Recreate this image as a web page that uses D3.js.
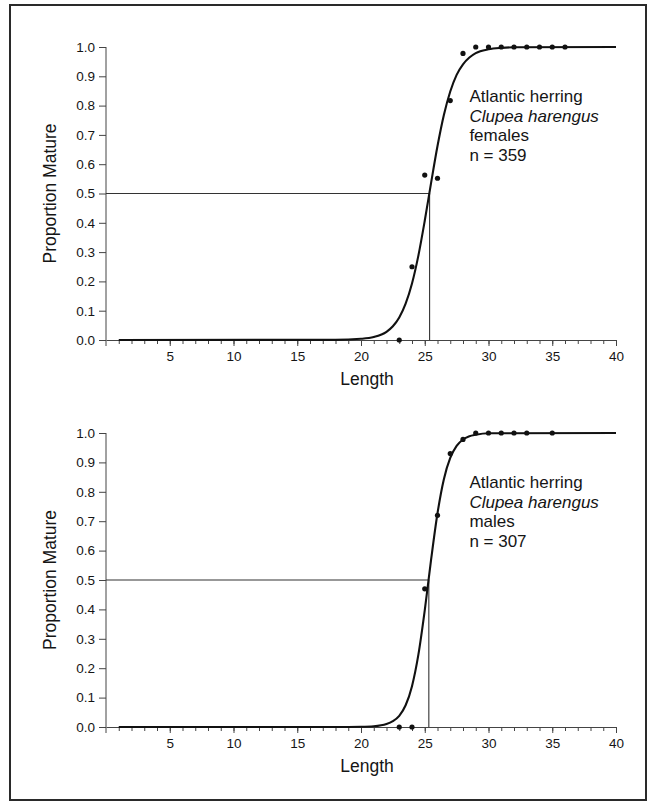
<!DOCTYPE html>
<html><head><meta charset="utf-8">
<script src="https://cdn.jsdelivr.net/npm/d3@7"></script>
<style>
body{margin:0;background:#fff}
svg{display:block}
text{font-family:"Liberation Sans",Arial,Helvetica,sans-serif;fill:#151515}
</style>
</head><body>
<svg id="c" width="650" height="803"></svg>
<script>
// ---- data ----
const yTickValues = [0,0.1,0.2,0.3,0.4,0.5,0.6,0.7,0.8,0.9,1.0];
const xTickLabels = [5,10,15,20,25,30,35,40];
const xMinorTicks = d3.range(1,41);

const femaleLength = [23,24,25,26,27,28,29,30,31,32,33,34,35,36];
const femaleProp   = [0,0.25,0.563,0.552,0.817,0.978,1,1,1,1,1,1,1,1];
const femaleCurveLength = [1,18,20,21,22,22.5,23,23.5,24,24.5,25,25.5,26,26.5,27,27.5,28,28.5,29,30,31,32,40];
const femaleCurveProp   = [0,0.0005,0.004,0.01,0.028,0.047,0.077,0.124,0.193,0.288,0.407,0.537,0.662,0.768,0.848,0.905,0.941,0.964,0.979,0.992,0.997,0.999,1.0];
const femaleL50 = 25.38;

const maleLength = [23,24,25,26,27,28,29,30,31,32,33,35];
const maleProp   = [0,0,0.47,0.72,0.93,0.978,1,1,1,1,1,1];
const maleCurveLength = [1,19,20,21,22,22.5,23,23.5,24,24.5,25,25.5,26,26.5,27,27.5,28,28.5,29,30,40];
const maleCurveProp   = [0,0.0002,0.0006,0.0024,0.01,0.02,0.038,0.074,0.139,0.246,0.397,0.57,0.727,0.843,0.915,0.956,0.978,0.989,0.994,0.999,1.0];
const maleL50 = 25.32;

const panels = [
  {len: femaleLength, prop: femaleProp, cl: femaleCurveLength, cp: femaleCurveProp, l50: femaleL50,
   label: ["Atlantic herring","Clupea harengus","females","n = 359"], y0: 340, y1: 47},
  {len: maleLength, prop: maleProp, cl: maleCurveLength, cp: maleCurveProp, l50: maleL50,
   label: ["Atlantic herring","Clupea harengus","males","n = 307"], y0: 727, y1: 433}
];

const svg = d3.select("#c");
// frame
svg.append("rect").attr("x",10).attr("y",5).attr("width",636).attr("height",795)
  .attr("fill","none").attr("stroke","#2a2a2a").attr("stroke-width",2);

const x = d3.scaleLinear().domain([0,40]).range([106,616]);

panels.forEach(p => {
  const y = d3.scaleLinear().domain([0,1]).range([p.y0,p.y1]);
  const g = svg.append("g");

  // y axis
  const ya = g.append("g").attr("transform",`translate(${x(0)},0)`)
    .call(d3.axisLeft(y).tickValues(yTickValues).tickFormat(d3.format(".1f")).tickSizeInner(7).tickSizeOuter(0).tickPadding(4));
  ya.select(".domain").attr("stroke","#444").attr("d",`M0,${y(1)}V${y(0)+6}`);
  ya.selectAll(".tick line").attr("stroke","#444");
  ya.selectAll("text").style("font-size","13.5px").attr("fill","#151515");

  // x axis: minor ticks
  const xm = g.append("g").attr("transform",`translate(0,${y(0)})`)
    .call(d3.axisBottom(x).tickValues(xMinorTicks).tickFormat("").tickSizeInner(4).tickSizeOuter(0));
  xm.select(".domain").attr("stroke","#444");
  xm.selectAll(".tick line").attr("stroke","#444");
  // major ticks with labels
  const xa = g.append("g").attr("transform",`translate(0,${y(0)})`)
    .call(d3.axisBottom(x).tickValues(xTickLabels).tickSizeInner(6).tickSizeOuter(0).tickPadding(5));
  xa.select(".domain").remove();
  xa.selectAll(".tick line").attr("stroke","#444");
  xa.selectAll("text").style("font-size","13.5px").attr("fill","#151515");

  // axis titles
  g.append("text").attr("x",(x(0)+x(40))/2 + 6).attr("y",y(0)+45)
    .attr("text-anchor","middle").style("font-size","17.5px").text("Length");
  g.append("text").attr("transform",`translate(56,${(y(0)+y(1))/2}) rotate(-90)`)
    .attr("text-anchor","middle").style("font-size","17.5px").text("Proportion Mature");

  // reference lines at 50% maturity
  g.append("path").attr("fill","none").attr("stroke","#333").attr("stroke-width",1.1)
    .attr("d",`M${x(0)},${y(0.5)}H${x(p.l50)}V${y(0)}`);

  // fitted curve
  const line = d3.line().x((d,i)=>x(p.cl[i])).y((d,i)=>y(p.cp[i])).curve(d3.curveMonotoneX);
  g.append("path").datum(p.cl).attr("fill","none").attr("stroke","#111").attr("stroke-width",2.1)
    .attr("d",line);

  // observed points
  g.selectAll("circle.pt").data(p.len).enter().append("circle")
    .attr("cx",d=>x(d)).attr("cy",(d,i)=>y(p.prop[i])).attr("r",2.6).attr("fill","#111");

  // annotation (one text per line)
  p.label.forEach((s,i) => {
    g.append("text").attr("x",x(28.5)).attr("y",y(1)+55+i*19.5)
      .style("font-size","17px").style("font-style",i===1?"italic":"normal").text(s);
  });
});
</script>
</body></html>
